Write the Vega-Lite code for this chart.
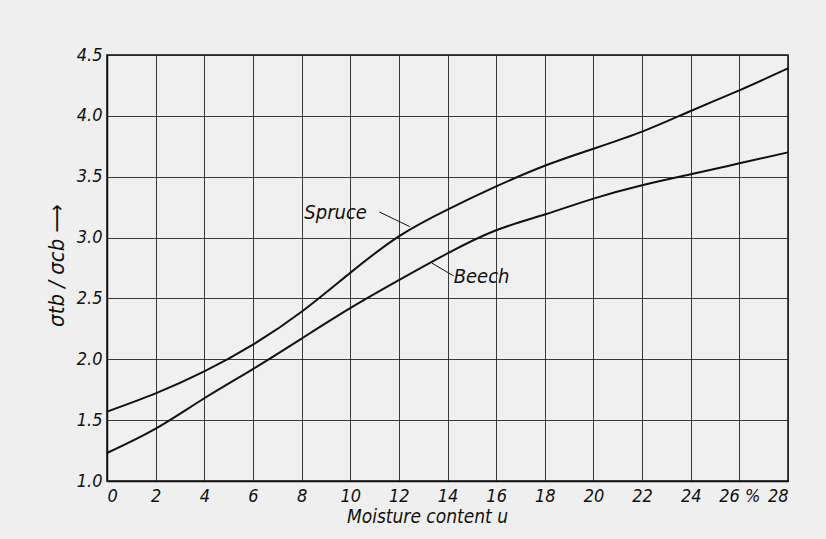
{
  "$schema": "https://vega.github.io/schema/vega-lite/v6.json",
  "width": 681,
  "height": 426,
  "autosize": {"type": "none"},
  "padding": {"left": 107, "top": 55, "right": 38, "bottom": 58},
  "background": "#efefef",
  "config": {
    "view": {"stroke": "#111", "strokeWidth": 1.5, "fill": "#f0f0f0"},
    "font": "DejaVu Sans Condensed, DejaVu Sans, sans-serif",
    "axis": {
      "labelFont": "DejaVu Sans Condensed, DejaVu Sans, sans-serif",
      "titleFont": "DejaVu Sans Condensed, DejaVu Sans, sans-serif",
      "labelFontStyle": "italic",
      "titleFontStyle": "italic",
      "titleFontWeight": "normal",
      "labelColor": "#111",
      "titleColor": "#111",
      "gridColor": "#222",
      "gridWidth": 0.9,
      "gridOpacity": 1,
      "domainColor": "#111",
      "domainWidth": 1.5,
      "ticks": false
    }
  },
  "datasets": {
    "curves": [
      {"u": 0, "r": 1.57, "wood": "Spruce"},
      {"u": 2, "r": 1.72, "wood": "Spruce"},
      {"u": 4, "r": 1.90, "wood": "Spruce"},
      {"u": 6, "r": 2.12, "wood": "Spruce"},
      {"u": 8, "r": 2.39, "wood": "Spruce"},
      {"u": 10, "r": 2.71, "wood": "Spruce"},
      {"u": 12, "r": 3.01, "wood": "Spruce"},
      {"u": 14, "r": 3.23, "wood": "Spruce"},
      {"u": 16, "r": 3.42, "wood": "Spruce"},
      {"u": 18, "r": 3.59, "wood": "Spruce"},
      {"u": 20, "r": 3.73, "wood": "Spruce"},
      {"u": 22, "r": 3.87, "wood": "Spruce"},
      {"u": 24, "r": 4.04, "wood": "Spruce"},
      {"u": 26, "r": 4.21, "wood": "Spruce"},
      {"u": 28, "r": 4.39, "wood": "Spruce"},
      {"u": 0, "r": 1.23, "wood": "Beech"},
      {"u": 2, "r": 1.43, "wood": "Beech"},
      {"u": 4, "r": 1.68, "wood": "Beech"},
      {"u": 6, "r": 1.92, "wood": "Beech"},
      {"u": 8, "r": 2.17, "wood": "Beech"},
      {"u": 10, "r": 2.42, "wood": "Beech"},
      {"u": 12, "r": 2.65, "wood": "Beech"},
      {"u": 14, "r": 2.87, "wood": "Beech"},
      {"u": 16, "r": 3.06, "wood": "Beech"},
      {"u": 18, "r": 3.19, "wood": "Beech"},
      {"u": 20, "r": 3.32, "wood": "Beech"},
      {"u": 22, "r": 3.43, "wood": "Beech"},
      {"u": 24, "r": 3.52, "wood": "Beech"},
      {"u": 26, "r": 3.61, "wood": "Beech"},
      {"u": 28, "r": 3.70, "wood": "Beech"}
    ],
    "labels": [
      {"name": "Spruce", "lu": 9.4, "lr": 3.2, "u1": 11.2, "r1": 3.21, "u2": 12.45, "r2": 3.09},
      {"name": "Beech", "lu": 15.4, "lr": 2.68, "u1": 13.36, "r1": 2.79, "u2": 14.25, "r2": 2.685}
    ]
  },
  "layer": [
    {
      "data": {"name": "curves"},
      "mark": {"type": "line", "color": "#111", "strokeWidth": 2, "interpolate": "natural"},
      "encoding": {
        "x": {
          "field": "u", "type": "quantitative",
          "scale": {"domain": [0, 28], "nice": false, "zero": false},
          "axis": {
            "values": [0, 2, 4, 6, 8, 10, 12, 14, 16, 18, 20, 22, 24, 26, 28],
            "labelExpr": "datum.value == 26 ? '26 %' : datum.label",
            "labelFontSize": 18,
            "labelPadding": 6,
            "title": "Moisture content u",
            "titleFontSize": 19,
            "titlePadding": 2,
            "titleX": 320
          }
        },
        "y": {
          "field": "r", "type": "quantitative",
          "scale": {"domain": [1.0, 4.5], "nice": false, "zero": false},
          "axis": {
            "values": [1.0, 1.5, 2.0, 2.5, 3.0, 3.5, 4.0, 4.5],
            "format": ".1f",
            "labelFontSize": 18,
            "labelPadding": 5,
            "title": "σtb / σcb  ⟶",
            "titleFontSize": 22,
            "titlePadding": 8,
            "titleY": 210
          }
        },
        "detail": {"field": "wood"}
      }
    },
    {
      "data": {"name": "labels"},
      "mark": {"type": "rule", "color": "#111", "strokeWidth": 1},
      "encoding": {
        "x": {"field": "u1", "type": "quantitative"},
        "y": {"field": "r1", "type": "quantitative"},
        "x2": {"field": "u2"},
        "y2": {"field": "r2"}
      }
    },
    {
      "data": {"name": "labels"},
      "mark": {"type": "text", "fontSize": 20, "fontStyle": "italic", "color": "#111", "font": "DejaVu Sans Condensed, DejaVu Sans, sans-serif"},
      "encoding": {
        "x": {"field": "lu", "type": "quantitative"},
        "y": {"field": "lr", "type": "quantitative"},
        "text": {"field": "name"}
      }
    }
  ]
}
